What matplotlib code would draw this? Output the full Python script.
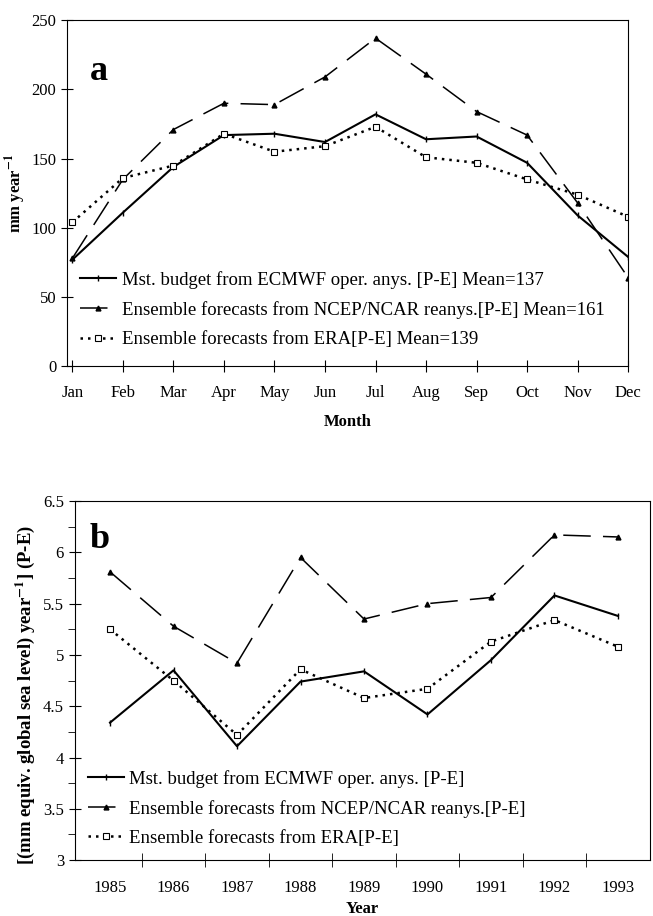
import numpy as np
import matplotlib.pyplot as plt
from matplotlib.ticker import MultipleLocator, FormatStrFormatter

plt.rcParams['font.family'] = ['Liberation Serif', 'DejaVu Serif']
plt.rcParams['mathtext.fontset'] = 'stix'

# Panel a - monthly P-E
months = ['Jan', 'Feb', 'Mar', 'Apr', 'May', 'Jun', 'Jul', 'Aug', 'Sep', 'Oct', 'Nov', 'Dec']
ecmwf_month = [77, 111, 144, 167, 168, 162, 182, 164, 166, 147, 109, 79]
ncep_month = [78, 135, 171, 190, 189, 209, 237, 211, 184, 167, 118, 64]
era_month = [104, 136, 145, 168, 155, 159, 173, 151, 147, 135, 124, 108]
labels_a = ['Mst. budget from ECMWF oper. anys. [P-E] Mean=137',
            'Ensemble forecasts from NCEP/NCAR reanys.[P-E] Mean=161',
            'Ensemble forecasts from ERA[P-E] Mean=139']

# Panel b - yearly P-E
years = ['1985', '1986', '1987', '1988', '1989', '1990', '1991', '1992', '1993']
ecmwf_year = [4.34, 4.85, 4.11, 4.74, 4.84, 4.42, 4.95, 5.58, 5.38]
ncep_year = [5.81, 5.28, 4.92, 5.95, 5.35, 5.50, 5.56, 6.17, 6.15]
era_year = [5.25, 4.75, 4.22, 4.86, 4.58, 4.67, 5.13, 5.34, 5.08]
labels_b = ['Mst. budget from ECMWF oper. anys. [P-E]',
            'Ensemble forecasts from NCEP/NCAR reanys.[P-E]',
            'Ensemble forecasts from ERA[P-E]']

fig = plt.figure(figsize=(6.53, 9.16), dpi=100)
ax1 = fig.add_axes([0.103, 0.600, 0.859, 0.378])
ax2 = fig.add_axes([0.115, 0.061, 0.880, 0.392])

dash = (0, (18, 8))
dots = (0, (1, 2))


def draw(ax, x, s1, s2, s3, labels, anchor):
    ax.plot(x, s1, '-', color='black', lw=1.5, marker='|', ms=5, mew=1, label=labels[0])
    ax.plot(x, s2, color='black', lw=1.1, ls=dash, marker='^', ms=3.5, label=labels[1])
    ax.plot(x, s3, color='black', lw=1.8, ls=dots, marker='s', ms=4, mfc='white',
            mew=0.8, label=labels[2])
    leg = ax.legend(loc='lower left', frameon=False, fontsize=13.5, handlelength=1.9,
                    handletextpad=0.3, labelspacing=0.65, borderaxespad=0.3,
                    bbox_to_anchor=anchor)
    return leg


# ---- panel a
xa = np.arange(len(months))
draw(ax1, xa, ecmwf_month, ncep_month, era_month, labels_a, (0, 0.015))
ax1.set_xlim(-0.1, 11.0)
ax1.set_ylim(0, 250)
ax1.set_xticks(xa)
ax1.set_xticklabels(months)
ax1.yaxis.set_major_locator(MultipleLocator(50))
ax1.tick_params(axis='both', direction='inout', length=9, labelsize=12)
ax1.tick_params(axis='x', pad=9)
ax1.set_ylabel('mm year$^{\\mathbf{-1}}$', fontweight='bold', fontsize=12, labelpad=2)
ax1.set_xlabel('Month', fontweight='bold', fontsize=12, labelpad=9)
ax1.text(0.04, 0.90, 'a', transform=ax1.transAxes, fontsize=26, fontweight='bold', va='top')

# ---- panel b
xb = np.arange(len(years))
draw(ax2, xb, ecmwf_year, ncep_year, era_year, labels_b, (0, 0))
ax2.set_xlim(-0.55, 8.5)
ax2.set_ylim(3, 6.5)
ax2.set_xticks(xb)
ax2.set_xticklabels(years)
ax2.set_xticks(xb[:-1] + 0.5, minor=True)
ax2.tick_params(axis='x', which='major', length=0, labelsize=12, pad=14)
ax2.tick_params(axis='x', which='minor', direction='inout', length=10)
ax2.yaxis.set_major_locator(MultipleLocator(0.5))
ax2.yaxis.set_minor_locator(MultipleLocator(0.25))
ax2.yaxis.set_major_formatter(FormatStrFormatter('%g'))
ax2.tick_params(axis='y', which='major', direction='inout', length=9, labelsize=12)
ax2.tick_params(axis='y', which='minor', direction='out', length=5)
ax2.set_ylabel('[(mm equiv. global sea level) year$^{\\mathbf{-1}}$] (P-E)',
               fontweight='bold', fontsize=13.5)
ax2.yaxis.set_label_coords(-0.066, 0.46)
ax2.set_xlabel('Year', fontweight='bold', fontsize=12, labelpad=4)
ax2.text(0.025, 0.94, 'b', transform=ax2.transAxes, fontsize=26, fontweight='bold', va='top')

fig.savefig('out.png', dpi=100)
